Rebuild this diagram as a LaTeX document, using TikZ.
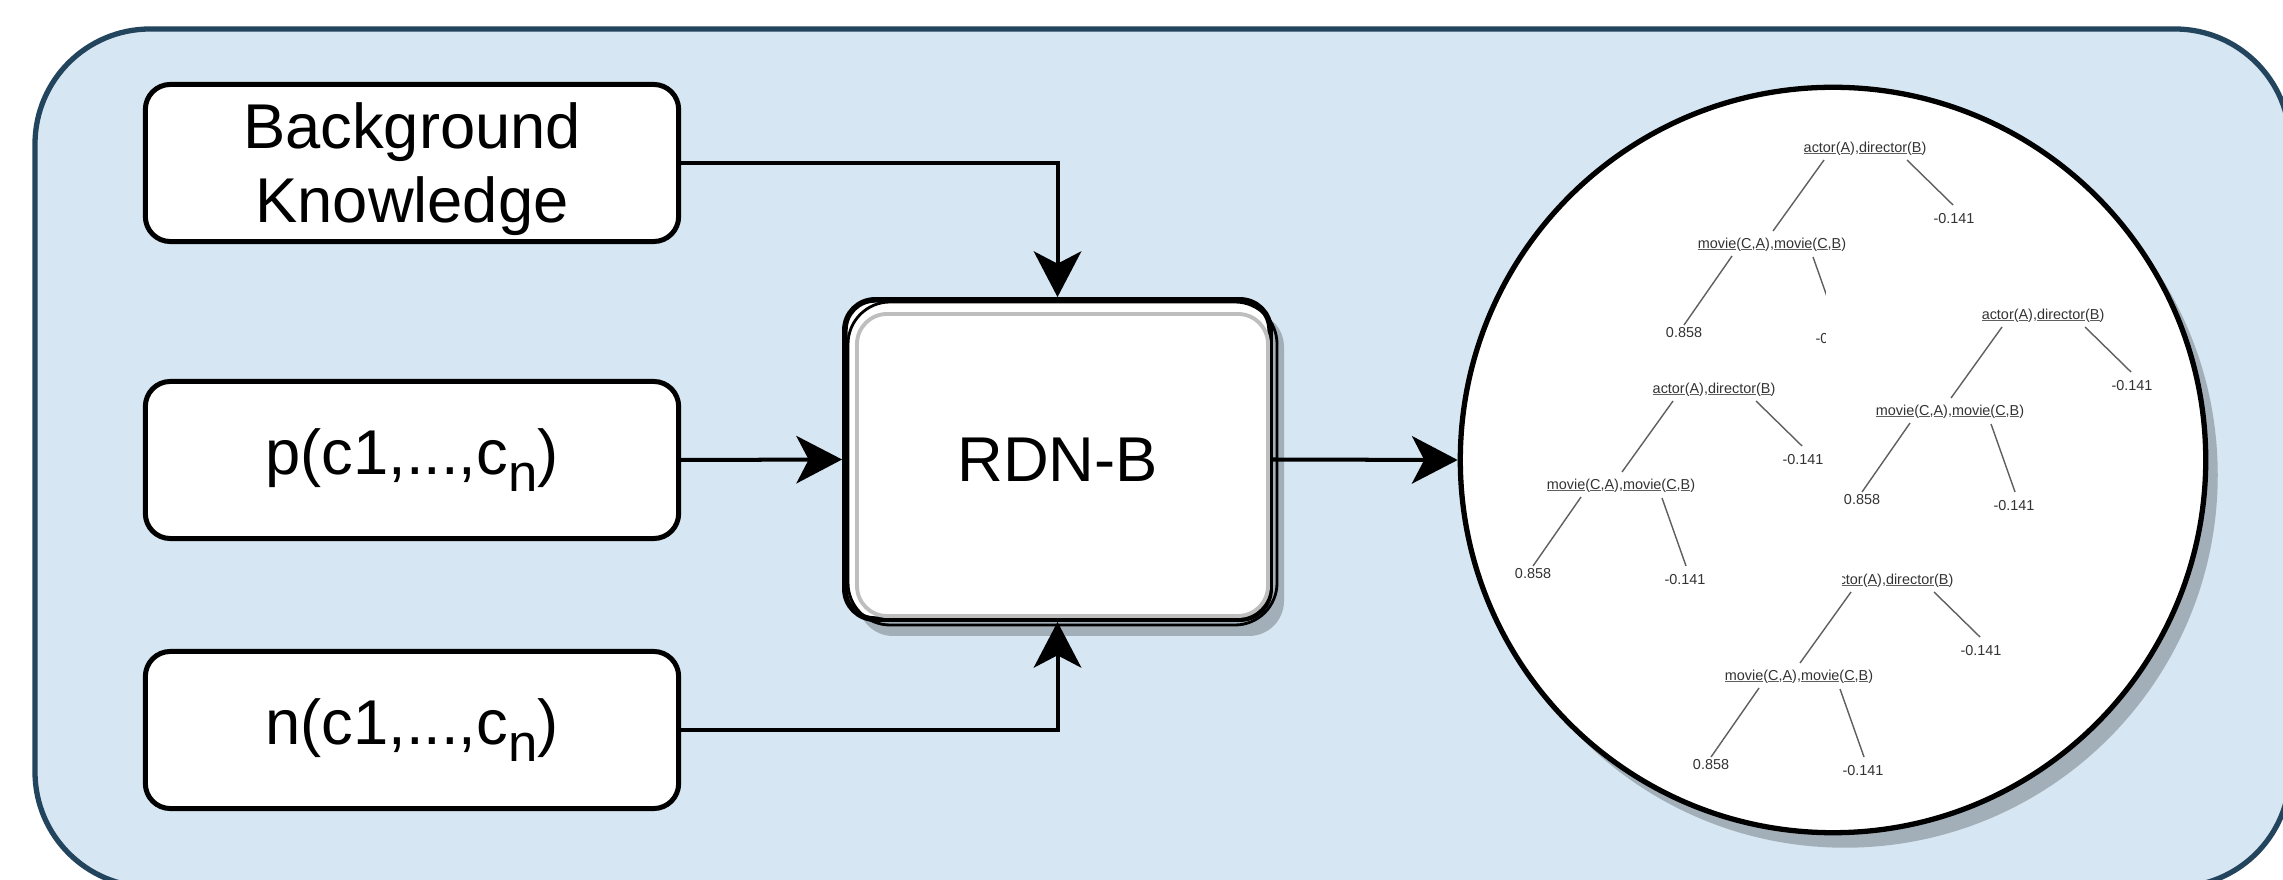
\documentclass[tikz,border=0pt]{standalone}
\usepackage{fontspec}
\setmainfont{Liberation Sans}
\usetikzlibrary{arrows.meta,calc}
\definecolor{outerfill}{RGB}{214,230,242}
\definecolor{outerline}{RGB}{35,68,93}
\definecolor{shadowc}{RGB}{162,175,184}
\definecolor{treetext}{RGB}{51,51,51}
\definecolor{treeline}{RGB}{95,95,95}
\definecolor{sketchgray}{RGB}{190,190,190}
\tikzset{
  inbox/.style={draw=black, line width=1.42pt, fill=white, rounded corners=0.25cm,
    minimum width=5.33cm, minimum height=1.57cm, inner sep=0, align=center,
    font=\fontsize{18}{21}\selectfont},
  rdnbox/.style={draw=black, line width=1.6pt, fill=white, rounded corners=0.3cm,
    minimum width=4.25cm, minimum height=3.19cm, inner sep=0,
    font=\fontsize{18}{21}\selectfont},
  arr/.style={line width=1.14pt, -{Stealth[length=13pt,width=13.5pt,inset=3.5pt]}},
  tlab/.style={font=\fontsize{4.1}{5}\selectfont, text=treetext, inner sep=0},
  tedge/.style={draw=treeline, line width=0.4pt},
  coverbox/.style={fill=white, draw=none},
}
\newcommand\subn{\raisebox{-0.27em}{\fontsize{15}{15}\selectfont n}}
\newcommand\ulx[1]{\setbox0\hbox{#1}\rlap{\color{treeline}\rule[-0.12em]{\wd0}{0.07em}}\box0}
\newcommand\rdntree[3]{%
  \node[tlab] (#1r) at (#2,#3) {\ulx{actor}(\ulx{A}),\ulx{director}(\ulx{B})};
  \node[tlab] (#1a) at ($(#2,#3)+(89,70)$) {-0.141};
  \node[tlab] (#1m) at ($(#2,#3)+(-93,96)$) {\ulx{movie}(\ulx{C},\ulx{A}),\ulx{movie}(\ulx{C},\ulx{B})};
  \node[tlab] (#1b) at ($(#2,#3)+(-181,184)$) {0.858};
  \node[tlab] (#1c) at ($(#2,#3)+(-29,190)$) {-0.141};
  \draw[tedge] ($(#1r)+(-41,11)$) -- ($(#1m)+(1,-14)$);
  \draw[tedge] ($(#1r)+(42,11)$) -- ($(#1a)+(-1,-14)$);
  \draw[tedge] ($(#1m)+(-40,11)$) -- ($(#1b)+(0,-8)$);
  \draw[tedge] ($(#1m)+(41,12)$) -- ($(#1c)+(1,-14)$);
}
\begin{document}
\begin{tikzpicture}[x=0.01cm, y=-0.01cm]
  \useasboundingbox (0,0) rectangle (2283,880);
  \clip (0,0) rectangle (2283,880);
  \fill[white] (0,0) rectangle (2283,880);
  % outer container
  \draw[draw=outerline, fill=outerfill, line width=1.5pt, rounded corners=1.15cm]
    (35,29) rectangle (2290,887);
  % input boxes
  \node[inbox, text depth=0pt] (bk) at (412,163) {Background\\Knowledge};
  \node[inbox] (pos) at (412,460) {p(c1,...,c\subn)};
  \node[inbox] (neg) at (412,730) {n(c1,...,c\subn)};
  % RDN-B sketchy box
  \fill[shadowc, rounded corners=0.35cm] (858,312) rectangle (1284,636);
  \node[rdnbox] (rdn) at (1057.5,459.5) {RDN-B};
  \draw[sketchgray, line width=1.1pt, rounded corners=0.3cm] (857,314) rectangle (1268,616);
  \draw[black, line width=0.8pt, rounded corners=0.42cm] (848,302) rectangle (1277,625);
  % circle with trees
  \fill[shadowc] (1845,475) circle[radius=3.725cm];
  \fill[white] (1833,460) circle[radius=3.725cm];
  \begin{scope}
    \clip (1833,460) circle[radius=3.72cm];
    \rdntree{ta}{1865}{149}
    \fill[coverbox] (1826,290) rectangle (2215,560);
    \rdntree{tb}{2043}{316}
    \rdntree{td}{1892}{581}
    \fill[coverbox] (1470,365) rectangle (1842,600);
    \rdntree{tc}{1714}{390}
  \end{scope}
  \node[circle, draw=black, line width=1.5pt, minimum size=7.45cm, inner sep=0] (circ) at (1833,460) {};
  % connectors
  \draw[arr] (bk.east) -| (rdn.north);
  \draw[arr] (pos.east) -- (rdn.west);
  \draw[arr] (neg.east) -| (rdn.south);
  \draw[arr] (rdn.east) -- (circ.west);
\end{tikzpicture}
\end{document}
